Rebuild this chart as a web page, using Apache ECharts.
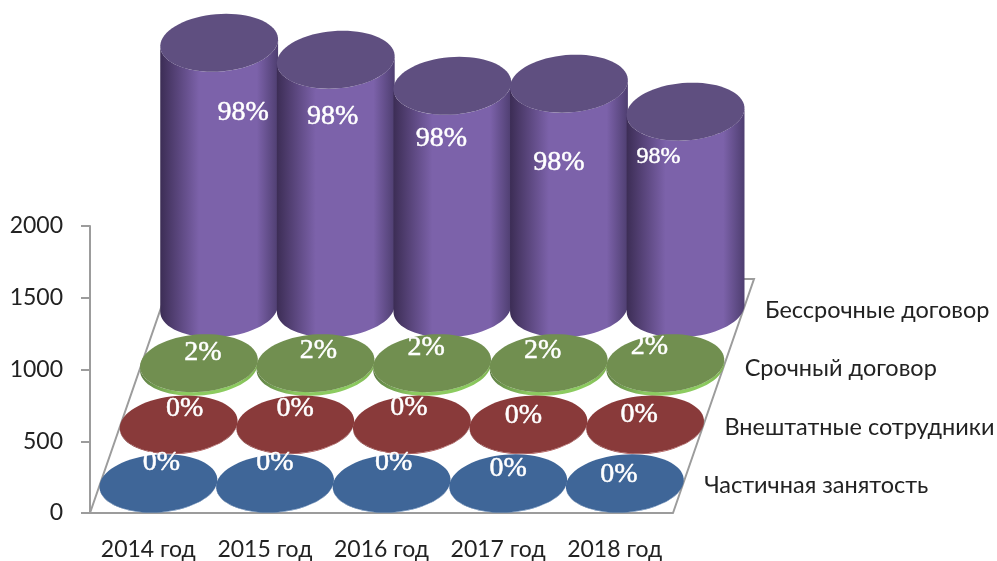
<!DOCTYPE html>
<html>
<head>
<meta charset="utf-8">
<title>Договоры</title>
<script src="https://cdn.jsdelivr.net/npm/echarts@6/dist/echarts.min.js"></script>
<style>
html, body { margin: 0; padding: 0; background: #fff; }
#chart { width: 997px; height: 561px; }
</style>
</head>
<body>
<div id="chart"></div>
<script>
const years = ['2014 год', '2015 год', '2016 год', '2017 год', '2018 год'];
const rowNames = ['Частичная занятость', 'Внештатные сотрудники', 'Срочный договор', 'Бессрочные договор'];

// values, front row first
const partTime = [3, 3, 3, 3, 3];
const freelance = [5, 5, 5, 5, 5];
const fixedTerm = [25, 25, 25, 25, 25];
const permanent = [1850, 1732, 1550, 1565, 1370];

const partTimePct = ['0%', '0%', '0%', '0%', '0%'];
const freelancePct = ['0%', '0%', '0%', '0%', '0%'];
const fixedTermPct = ['2%', '2%', '2%', '2%', '2%'];
const permanentPct = ['98%', '98%', '98%', '98%', '98%'];

const rowValues = [partTime, freelance, fixedTerm, permanent];
const rowPct = [partTimePct, freelancePct, fixedTermPct, permanentPct];

// looks of each row
const rowStyles = [
	{ top: '#3f6698', side: ['#2f5080', '#4a78b0', '#2f5080'] },
	{ top: '#893a3a', side: ['#6a2a2a', '#a84a48', '#6a2a2a'] },
	{ top: '#718f50', side: ['#5f7d45', '#8ccb60', '#7fb352'] },
	{ top: '#5f4f80', side: ['#3c2d55', '#7c62aa', '#4e3e70'] }
];
// the labels sit by hand in the original, so nudge each one [dx, dy]
const labelNudge = [
	[[3, -21], [0, -21], [2, -21], [0, -15], [-6, -9]],
	[[6, -17], [0, -17], [-3, -18], [-5, -10], [-6, -11]],
	[[4, -14], [3, -16], [-6, -19], [-6, -16], [-16, -20]],
	[[24, 70], [-3, 57], [-11, 53], [-10, 79], [-27, 45]]
];

// floor depth in px, whole floor is 4 rows deep
const depthX = 81;
const depthY = -234;
const radiusX = 58.5;
const radiusSkew = 7;
const radiusY = 29;

function ellipsePoint(c, t) {
	return [
		c[0] + radiusX * Math.cos(t) + radiusSkew * Math.sin(t),
		c[1] - radiusY * Math.sin(t)
	];
}

function ellipse(c) {
	let pts = [];
	for (let k = 0; k < 72; k++) {
		pts.push(ellipsePoint(c, k / 72 * Math.PI * 2));
	}
	return pts;
}

function makeRender(row) {
	return function (params, api) {
		let idx = api.value(0);
		let d = (row + 0.5) / 4;
		let p0 = api.coord([idx, 0]);
		let p1 = api.coord([idx, api.value(1)]);
		let base = [p0[0] + depthX * d, p0[1] + depthY * d];
		let top = [p1[0] + depthX * d, p1[1] + depthY * d];
		let st = rowStyles[row];

		// side silhouette: front half of the base, then front half of the top going back
		let tLeft = Math.PI + Math.atan2(radiusSkew, radiusX);
		let side = [];
		for (let k = 0; k <= 36; k++) {
			side.push(ellipsePoint(base, tLeft + k / 36 * Math.PI));
		}
		for (let k = 36; k >= 0; k--) {
			side.push(ellipsePoint(top, tLeft + k / 36 * Math.PI));
		}

		let children = [
			{
				type: 'polygon',
				shape: { points: side },
				style: {
					fill: new echarts.graphic.LinearGradient(0, 0, 1, 0, [
						{ offset: 0, color: st.side[0] },
						{ offset: 0.33, color: st.side[1] },
						{ offset: 0.82, color: st.side[1] },
						{ offset: 1, color: st.side[2] }
					])
				}
			},
			{
				type: 'polygon',
				shape: { points: ellipse(top) },
				style: { fill: st.top }
			}
		];

		let nudge = labelNudge[row][idx];
		let anchor = row === 3 ? top : base;
		children.push({
			type: 'text',
			z2: 10,
			style: {
				text: rowPct[row][idx],
				x: anchor[0] + nudge[0],
				y: anchor[1] + nudge[1],
				fill: '#fff',
				stroke: '#fff',
				lineWidth: 0.5,
				font: (row === 3 && idx === 4 ? '24px' : '28px') + ' "Liberation Serif"',
				textAlign: 'center',
				textVerticalAlign: 'middle'
			}
		});

		// depth axis label, once per row
		if (idx === years.length - 1) {
			let edge = p0[0] + api.size([1, 0])[0] / 2;
			children.push({
				type: 'text',
				style: {
					text: rowNames[row],
					x: edge + depthX * d + 21,
					y: p0[1] + depthY * d + 2,
					fill: '#222',
					font: '23.5px Lato',
					textAlign: 'left',
					textVerticalAlign: 'middle'
				}
			});
		}
		return { type: 'group', children: children };
	};
}

function renderFloor(params, api) {
	let band = api.size([1, 0])[0];
	let first = api.coord([0, 0]);
	let last = api.coord([years.length - 1, 0]);
	let a = [first[0] - band / 2, first[1]];
	let b = [last[0] + band / 2, last[1]];
	return {
		type: 'polyline',
		shape: {
			points: [
				a,
				[a[0] + depthX, a[1] + depthY],
				[b[0] + depthX, b[1] + depthY],
				b
			]
		},
		style: { fill: 'none', stroke: '#9c9c9c', lineWidth: 2 }
	};
}

let series = [{
	type: 'custom',
	silent: true,
	clip: false,
	z: 1,
	renderItem: renderFloor,
	data: [[0, 0]]
}];
rowValues.forEach(function (vals, row) {
	series.push({
		type: 'custom',
		name: rowNames[row],
		silent: true,
		clip: false,
		z: 10 - row,
		renderItem: makeRender(row),
		data: vals.map(function (v, i) { return [i, v]; })
	});
});

let ec = echarts.init(document.getElementById('chart'));
ec.setOption({
	animation: false,
	backgroundColor: '#fff',
	grid: { left: 90, right: 324, top: 226, bottom: 48 },
	xAxis: {
		type: 'category',
		data: years,
		axisLine: { lineStyle: { color: '#9c9c9c', width: 2 } },
		axisTick: { show: false },
		axisLabel: { color: '#222', fontFamily: 'Lato', fontSize: 23, margin: 25, interval: 0 }
	},
	yAxis: {
		type: 'value',
		min: 0,
		max: 2000,
		interval: 500,
		axisLine: { show: true, lineStyle: { color: '#9c9c9c', width: 2 } },
		axisTick: { show: true, length: 9, lineStyle: { color: '#9c9c9c', width: 2 } },
		splitLine: { show: false },
		axisLabel: {
			color: '#222',
			fontFamily: 'Lato',
			fontSize: 23,
			margin: 27,
			formatter: function (v) { return String(v); }
		}
	},
	series: series
});
</script>
</body>
</html>
